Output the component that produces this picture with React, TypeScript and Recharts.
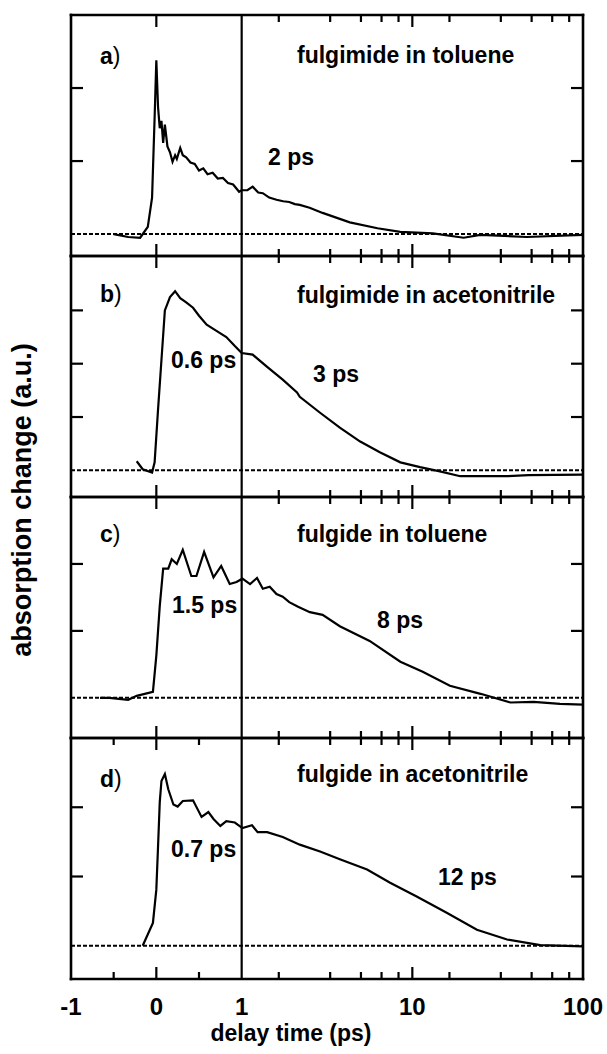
import React from 'react';
import { LineChart, Line, XAxis, YAxis, ReferenceLine } from 'recharts';

// delay time (ps) / absorption change (a.u.)
const fulgimideTolueneTime = [
  -0.5, -0.33, -0.19, -0.1, -0.05, -0.02, 0.0, 0.02, 0.04, 0.06, 0.08, 0.1, 0.13, 0.16,
  0.19, 0.22, 0.24, 0.28, 0.31, 0.35, 0.4, 0.45, 0.5, 0.55, 0.6, 0.66, 0.72, 0.78, 0.84,
  0.9, 0.97, 1.0, 1.08, 1.16, 1.25, 1.33, 1.45, 1.6, 1.75, 1.9, 2.05, 2.19, 2.5, 2.98,
  4.3, 6.25, 8.5, 13.2, 20, 25, 46.8, 100,
];
const fulgimideTolueneAbs = [
  0.0, -0.04, -0.05, 0.1, 0.5, 1.6, 2.38, 1.74, 1.45, 1.55, 1.25, 1.5, 1.2, 1.12,
  0.99, 1.08, 1.03, 1.18, 1.08, 1.05, 0.98, 0.96, 0.87, 0.9, 0.82, 0.84, 0.76, 0.77, 0.7,
  0.68, 0.58, 0.6, 0.6, 0.65, 0.57, 0.56, 0.5, 0.47, 0.45, 0.44, 0.41, 0.4, 0.36, 0.29,
  0.16, 0.08, 0.03, 0.01, -0.05, -0.01, -0.04, -0.01,
];

const fulgimideAcnTime = [
  -0.23, -0.16, -0.05, -0.02, 0.02, 0.06, 0.1, 0.16, 0.22, 0.28, 0.35, 0.43, 0.5, 0.59,
  0.7, 0.82, 0.92, 1.0, 1.16, 1.41, 1.74, 2.11, 2.19, 2.88, 3.76, 4.95, 6.45, 8.51, 11.1,
  14.5, 19.1, 35.9, 48, 100,
];
const fulgimideAcnAbs = [
  0.17, 0.02, -0.04, 0.15, 1.14, 2.07, 3.0, 3.25, 3.36, 3.23, 3.15, 3.05, 2.9, 2.73,
  2.62, 2.5, 2.33, 2.2, 2.17, 1.94, 1.7, 1.46, 1.38, 1.08, 0.8, 0.54, 0.34, 0.15, 0.06,
  -0.02, -0.11, -0.11, -0.09, -0.08,
];

const fulgideTolueneTime = [
  -0.66, -0.55, -0.33, -0.23, -0.04, 0.0, 0.04, 0.08, 0.14, 0.18, 0.24, 0.31, 0.41, 0.47,
  0.56, 0.67, 0.76, 0.86, 0.94, 1.01, 1.12, 1.23, 1.33, 1.46, 1.6, 1.74, 1.9, 2.14, 2.51,
  2.98, 3.76, 5.62, 8.51, 11.5, 16.6, 25.1, 37.6, 51.3, 73.3, 100,
];
const fulgideTolueneAbs = [
  0.0, 0.0, -0.03, 0.03, 0.09, 0.63, 1.37, 1.93, 1.93, 2.07, 2.0, 2.21, 1.82, 1.82,
  2.18, 1.8, 1.97, 1.7, 1.73, 1.78, 1.7, 1.79, 1.63, 1.66, 1.55, 1.51, 1.43, 1.36, 1.28,
  1.24, 1.07, 0.85, 0.54, 0.39, 0.18, 0.06, -0.07, -0.06, -0.09, -0.1,
];

const fulgideAcnTime = [
  -0.16, -0.04, 0.0, 0.02, 0.04, 0.06, 0.1, 0.14, 0.2, 0.25, 0.31, 0.43, 0.53, 0.61,
  0.67, 0.75, 0.82, 0.92, 1.01, 1.15, 1.24, 1.41, 1.74, 2.19, 2.88, 3.76, 5.43, 7.41,
  10.6, 15.8, 23.9, 35.9, 56.2, 100,
];
const fulgideAcnAbs = [
  0.0, 0.33, 0.81, 1.43, 2.07, 2.38, 2.48, 2.26, 2.04, 2.01, 2.09, 2.1, 1.86, 1.93,
  1.83, 1.73, 1.8, 1.78, 1.7, 1.74, 1.64, 1.64, 1.57, 1.46, 1.36, 1.25, 1.1, 0.91,
  0.71, 0.48, 0.23, 0.09, 0.01, -0.01,
];

const panelLetters = ['a', 'b', 'c', 'd'];
const panelTitles = [
  'fulgimide in toluene',
  'fulgimide in acetonitrile',
  'fulgide in toluene',
  'fulgide in acetonitrile',
];
const xTickLabels = [-1, 0, 1, 10, 100];
const xMajorTicks = [0, 10];
const xMinorLogTicks = [1.65, 3.3, 5, 6.6, 8.3, 16.5, 33, 50, 66, 83];
const xMinorLinTicks = [-0.5, 0.5];

// layout
const W = 607;
const PLOT_L = 71;
const PLOT_R = 583;
const PLOT_H = 241;
const PANEL_TOPS = [15, 256, 497, 738];
const PAD = 16;
const FONT = '"Liberation Sans", Arial, Helvetica, sans-serif';
const axisStyle = { stroke: '#000', strokeWidth: 2.6, strokeLinecap: 'square' as const };

// linear between -1 and 1 ps, log10 above (two units per decade)
const toAxis = (t: number) => (t <= 1 ? t : 1 + 2 * Math.log10(t));
const near = (list: number[], v: number) => list.some((u) => Math.abs(u - v) < 1e-6);

const majorT = xMajorTicks.map(toAxis);
const labelT = xTickLabels.map(toAxis);

const panels = [
  { time: fulgimideTolueneTime, abs: fulgimideTolueneAbs, domain: [-0.3, 3.0], yTicks: [1, 2],
    taus: [{ text: '2 ps', x: 268, y: 165 }], letterY: 64, titleY: 63 },
  { time: fulgimideAcnTime, abs: fulgimideAcnAbs, domain: [-0.5, 4.02], yTicks: [1, 2, 3],
    taus: [{ text: '0.6 ps', x: 171, y: 368 }, { text: '3 ps', x: 313, y: 382 }], letterY: 302, titleY: 303 },
  { time: fulgideTolueneTime, abs: fulgideTolueneAbs, domain: [-0.6, 3.0], yTicks: [1, 2],
    taus: [{ text: '1.5 ps', x: 172, y: 613 }, { text: '8 ps', x: 377, y: 628 }], letterY: 542, titleY: 542 },
  { time: fulgideAcnTime, abs: fulgideAcnAbs, domain: [-0.48, 3.0], yTicks: [1, 2],
    taus: [{ text: '0.7 ps', x: 171, y: 857 }, { text: '12 ps', x: 438, y: 885 }], letterY: 787, titleY: 782 },
];

function XTick(props: any) {
  const { x, y, payload, side, showLabels } = props;
  const v = payload.value;
  const len = near(majorT, v) ? 12 : 7;
  const edge = near([-1, 1, 5], v);
  const dir = side === 'top' ? 1 : -1;
  const idx = labelT.findIndex((u) => Math.abs(u - v) < 1e-6);
  return (
    <g>
      {!edge && <line x1={x} x2={x} y1={y} y2={y + dir * len} stroke="#000" strokeWidth={2.2} />}
      {showLabels && idx >= 0 && (
        <text x={x} y={y + 36} textAnchor="middle" fontFamily={FONT} fontWeight="bold" fontSize={24} fill="#000">
          {xTickLabels[idx]}
        </text>
      )}
    </g>
  );
}

function YTick(props: any) {
  const { x, y, side } = props;
  const dir = side === 'left' ? 1 : -1;
  return <line x1={x} x2={x + dir * 12} y1={y} y2={y} stroke="#000" strokeWidth={2.2} />;
}

function Panel({ index }: { index: number }) {
  const cfg = panels[index];
  const data = cfg.time.map((t, i) => ({ x: toAxis(t), y: cfg.abs[i] }));
  const last = index === panels.length - 1;
  const botH = last ? 80 : PAD;
  const h = PLOT_H + PAD + botH;
  const ticksT = Array.from(
    new Set([
      ...labelT,
      ...majorT,
      ...xMinorLogTicks.map(toAxis),
      ...(last ? xMinorLinTicks.map(toAxis) : []),
    ]),
  );
  const topTicksT = Array.from(
    new Set([
      ...majorT,
      ...xMinorLogTicks.map(toAxis),
      ...(last ? xMinorLinTicks.map(toAxis) : []),
    ]),
  );
  return (
    <div style={{ position: 'absolute', left: 0, top: PANEL_TOPS[index] - PAD, width: W, height: h }}>
      <LineChart width={W} height={h} data={data} margin={{ top: 0, right: 0, bottom: 0, left: 0 }}>
        <XAxis
          xAxisId="b" dataKey="x" type="number" domain={[-1, 5]} allowDataOverflow
          ticks={ticksT} interval={0} tickSize={0} tickMargin={0} tickLine={false} height={botH}
          axisLine={axisStyle} tick={(p: any) => <XTick {...p} side="bottom" showLabels={last} />}
        />
        <XAxis
          xAxisId="t" orientation="top" dataKey="x" type="number" domain={[-1, 5]} allowDataOverflow
          ticks={topTicksT} interval={0} tickSize={0} tickMargin={0} tickLine={false} height={PAD}
          axisLine={axisStyle} tick={(p: any) => <XTick {...p} side="top" />}
        />
        <YAxis
          yAxisId="l" type="number" domain={cfg.domain} allowDataOverflow ticks={cfg.yTicks}
          interval={0} tickSize={0} tickMargin={0} tickLine={false} width={PLOT_L}
          axisLine={axisStyle} tick={(p: any) => <YTick {...p} side="left" />}
        />
        <YAxis
          yAxisId="r" orientation="right" type="number" domain={cfg.domain} allowDataOverflow
          ticks={cfg.yTicks} interval={0} tickSize={0} tickMargin={0} tickLine={false}
          width={W - PLOT_R} axisLine={axisStyle} tick={(p: any) => <YTick {...p} side="right" />}
        />
        <ReferenceLine xAxisId="b" yAxisId="l" y={0} stroke="#000" strokeWidth={2} strokeDasharray="4 2" />
        <ReferenceLine xAxisId="b" yAxisId="l" x={1} stroke="#000" strokeWidth={2.2} />
        <Line
          xAxisId="b" yAxisId="l" dataKey="y" type="linear" stroke="#000" strokeWidth={2.2}
          dot={false} isAnimationActive={false}
        />
      </LineChart>
    </div>
  );
}

export default function App() {
  const textStyle = { fontFamily: FONT, fontWeight: 'bold' as const, fontSize: 23, fill: '#000' };
  return (
    <div style={{ position: 'absolute', left: 0, top: 0, width: W, height: 1054, background: '#fff' }}>
      {panels.map((_, i) => (
        <Panel key={i} index={i} />
      ))}
      <svg
        width={W} height={1054}
        style={{ position: 'absolute', left: 0, top: 0, pointerEvents: 'none' }}
      >
        {panels.map((p, i) => (
          <g key={i}>
            <text x={100} y={p.letterY} {...textStyle}>
              {panelLetters[i]}
              <tspan fontWeight="normal">)</tspan>
            </text>
            <text x={297} y={p.titleY} {...textStyle}>{panelTitles[i]}</text>
            {p.taus.map((t) => (
              <text key={t.text} x={t.x} y={t.y} {...textStyle}>{t.text}</text>
            ))}
          </g>
        ))}
        <text x={(PLOT_L + PLOT_R) / 2 - 36} y={1041} textAnchor="middle" {...textStyle}>
          delay time (ps)
        </text>
        <text
          transform="translate(31, 500) rotate(-90)" textAnchor="middle"
          {...textStyle} fontSize={27}
        >
          absorption change (a.u.)
        </text>
      </svg>
    </div>
  );
}
